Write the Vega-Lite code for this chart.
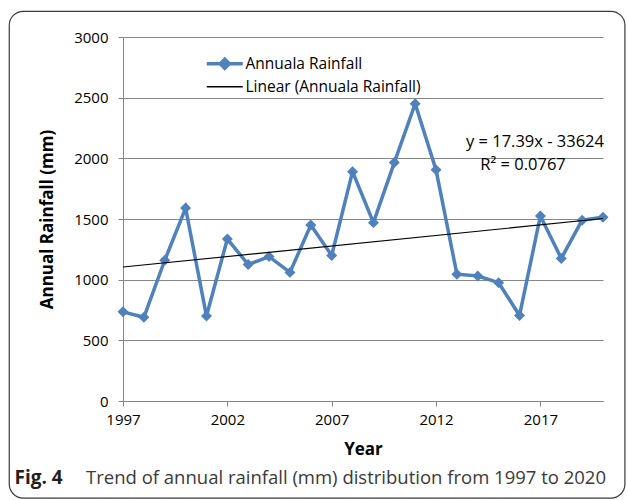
{
  "$schema": "https://vega.github.io/schema/vega-lite/v6.json",
  "autosize": "none",
  "width": 480,
  "height": 364,
  "padding": {"left": 123, "top": 37, "right": 24, "bottom": 99},
  "background": "#ffffff",
  "config": {
    "view": {"stroke": null},
    "font": "Open Sans",
    "axis": {
      "labelFont": "Open Sans",
      "labelFontSize": 15,
      "labelColor": "#000000",
      "titleFont": "Open Sans",
      "titleFontSize": 17,
      "titleFontWeight": "bold",
      "titleColor": "#000000",
      "domainColor": "#868686",
      "tickColor": "#868686",
      "gridColor": "#868686",
      "gridOpacity": 1,
      "tickSize": 5,
      "labelFlush": false
    }
  },
  "datasets": {
    "rain": [
      {"year": 1997, "rainfall": 735, "series": "Annuala Rainfall"},
      {"year": 1998, "rainfall": 690, "series": "Annuala Rainfall"},
      {"year": 1999, "rainfall": 1160, "series": "Annuala Rainfall"},
      {"year": 2000, "rainfall": 1590, "series": "Annuala Rainfall"},
      {"year": 2001, "rainfall": 700, "series": "Annuala Rainfall"},
      {"year": 2002, "rainfall": 1335, "series": "Annuala Rainfall"},
      {"year": 2003, "rainfall": 1125, "series": "Annuala Rainfall"},
      {"year": 2004, "rainfall": 1190, "series": "Annuala Rainfall"},
      {"year": 2005, "rainfall": 1060, "series": "Annuala Rainfall"},
      {"year": 2006, "rainfall": 1450, "series": "Annuala Rainfall"},
      {"year": 2007, "rainfall": 1200, "series": "Annuala Rainfall"},
      {"year": 2008, "rainfall": 1890, "series": "Annuala Rainfall"},
      {"year": 2009, "rainfall": 1470, "series": "Annuala Rainfall"},
      {"year": 2010, "rainfall": 1965, "series": "Annuala Rainfall"},
      {"year": 2011, "rainfall": 2450, "series": "Annuala Rainfall"},
      {"year": 2012, "rainfall": 1905, "series": "Annuala Rainfall"},
      {"year": 2013, "rainfall": 1045, "series": "Annuala Rainfall"},
      {"year": 2014, "rainfall": 1030, "series": "Annuala Rainfall"},
      {"year": 2015, "rainfall": 975, "series": "Annuala Rainfall"},
      {"year": 2016, "rainfall": 705, "series": "Annuala Rainfall"},
      {"year": 2017, "rainfall": 1525, "series": "Annuala Rainfall"},
      {"year": 2018, "rainfall": 1175, "series": "Annuala Rainfall"},
      {"year": 2019, "rainfall": 1490, "series": "Annuala Rainfall"},
      {"year": 2020, "rainfall": 1515, "series": "Annuala Rainfall"}
    ],
    "trend": [
      {"year": 1997, "rainfall": 1103.8, "series": "Linear (Annuala Rainfall)"},
      {"year": 2020, "rainfall": 1503.8, "series": "Linear (Annuala Rainfall)"}
    ]
  },
  "layer": [
    {
      "data": {"values": [{}]},
      "mark": {"type": "rect", "fill": null, "stroke": "#3a3a3a", "strokeWidth": 1.2, "cornerRadius": 14, "clip": false},
      "encoding": {
        "x": {"datum": 1991.55, "type": "quantitative"},
        "x2": {"datum": 2021.05},
        "y": {"datum": 3212, "type": "quantitative"},
        "y2": {"datum": -800}
      }
    },
    {
      "data": {"name": "rain"},
      "mark": {"type": "line", "strokeWidth": 3.5, "point": {"shape": "diamond", "size": 120, "filled": true}},
      "encoding": {
        "x": {
          "field": "year", "type": "quantitative",
          "scale": {"domain": [1997, 2020], "nice": false, "zero": false},
          "axis": {"values": [1997, 2002, 2007, 2012, 2017], "format": "d", "grid": false, "title": "Year", "labelPadding": 6, "titlePadding": 14}
        },
        "y": {
          "field": "rainfall", "type": "quantitative",
          "scale": {"domain": [0, 3000], "nice": false},
          "axis": {"values": [0, 500, 1000, 1500, 2000, 2500, 3000], "format": "d", "grid": true, "title": "Annual Rainfall (mm)", "labelPadding": 10, "titlePadding": 17}
        },
        "color": {
          "field": "series", "type": "nominal",
          "scale": {"domain": ["Annuala Rainfall", "Linear (Annuala Rainfall)"], "range": ["#4F81BD", "#000000"]},
          "legend": {
            "orient": "none", "legendX": 94, "legendY": 19, "title": null,
            "symbolType": "M-3.6,0L3.6,0", "symbolSize": 100, "labelOffset": 13, "labelLimit": 400,
            "labelFont": "Open Sans", "labelFontSize": 15.5, "labelColor": "#000000",
            "rowPadding": 3, "padding": 0,
            "encode": {"symbols": {"update": {
              "shape": {"signal": "datum.value === 'Annuala Rainfall' ? 'M-3.6,0L3.6,0M0,-0.9L0.9,0L0,0.9L-0.9,0Z' : 'M-3.6,0L3.6,0'"},
              "strokeWidth": {"signal": "datum.value === 'Annuala Rainfall' ? 3.5 : 1.3"},
              "fill": {"signal": "datum.value === 'Annuala Rainfall' ? '#4F81BD' : 'transparent'"},
              "stroke": {"signal": "datum.value === 'Annuala Rainfall' ? '#4F81BD' : '#000000'"}
            }}}
          }
        }
      }
    },
    {
      "data": {"name": "trend"},
      "mark": {"type": "line", "strokeWidth": 1.1},
      "encoding": {
        "x": {"field": "year", "type": "quantitative"},
        "y": {"field": "rainfall", "type": "quantitative"},
        "color": {"field": "series", "type": "nominal"}
      }
    },
    {
      "data": {"values": [{}]},
      "mark": {"type": "text", "align": "center", "baseline": "middle", "fontSize": 16.5, "font": "Open Sans", "color": "#000000", "clip": false},
      "encoding": {
        "x": {"datum": 2016.74, "type": "quantitative"},
        "y": {"datum": 2133, "type": "quantitative"},
        "text": {"value": "y = 17.39x - 33624"}
      }
    },
    {
      "data": {"values": [{}]},
      "mark": {"type": "text", "align": "center", "baseline": "middle", "fontSize": 16.5, "font": "Open Sans", "color": "#000000", "clip": false},
      "encoding": {
        "x": {"datum": 2016.17, "type": "quantitative"},
        "y": {"datum": 1943, "type": "quantitative"},
        "text": {"value": "R² = 0.0767"}
      }
    },
    {
      "data": {"values": [{}]},
      "mark": {"type": "text", "align": "left", "baseline": "middle", "fontSize": 19, "fontWeight": "bold", "font": "Open Sans", "color": "#231f20", "clip": false},
      "encoding": {
        "x": {"datum": 1991.8, "type": "quantitative"},
        "y": {"datum": -634, "type": "quantitative"},
        "text": {"value": "Fig. 4"}
      }
    },
    {
      "data": {"values": [{}]},
      "mark": {"type": "text", "align": "left", "baseline": "middle", "fontSize": 18.5, "font": "Open Sans", "color": "#3a3a3a", "clip": false},
      "encoding": {
        "x": {"datum": 1995.23, "type": "quantitative"},
        "y": {"datum": -634, "type": "quantitative"},
        "text": {"value": "Trend of annual rainfall (mm) distribution from 1997 to 2020"}
      }
    }
  ]
}
